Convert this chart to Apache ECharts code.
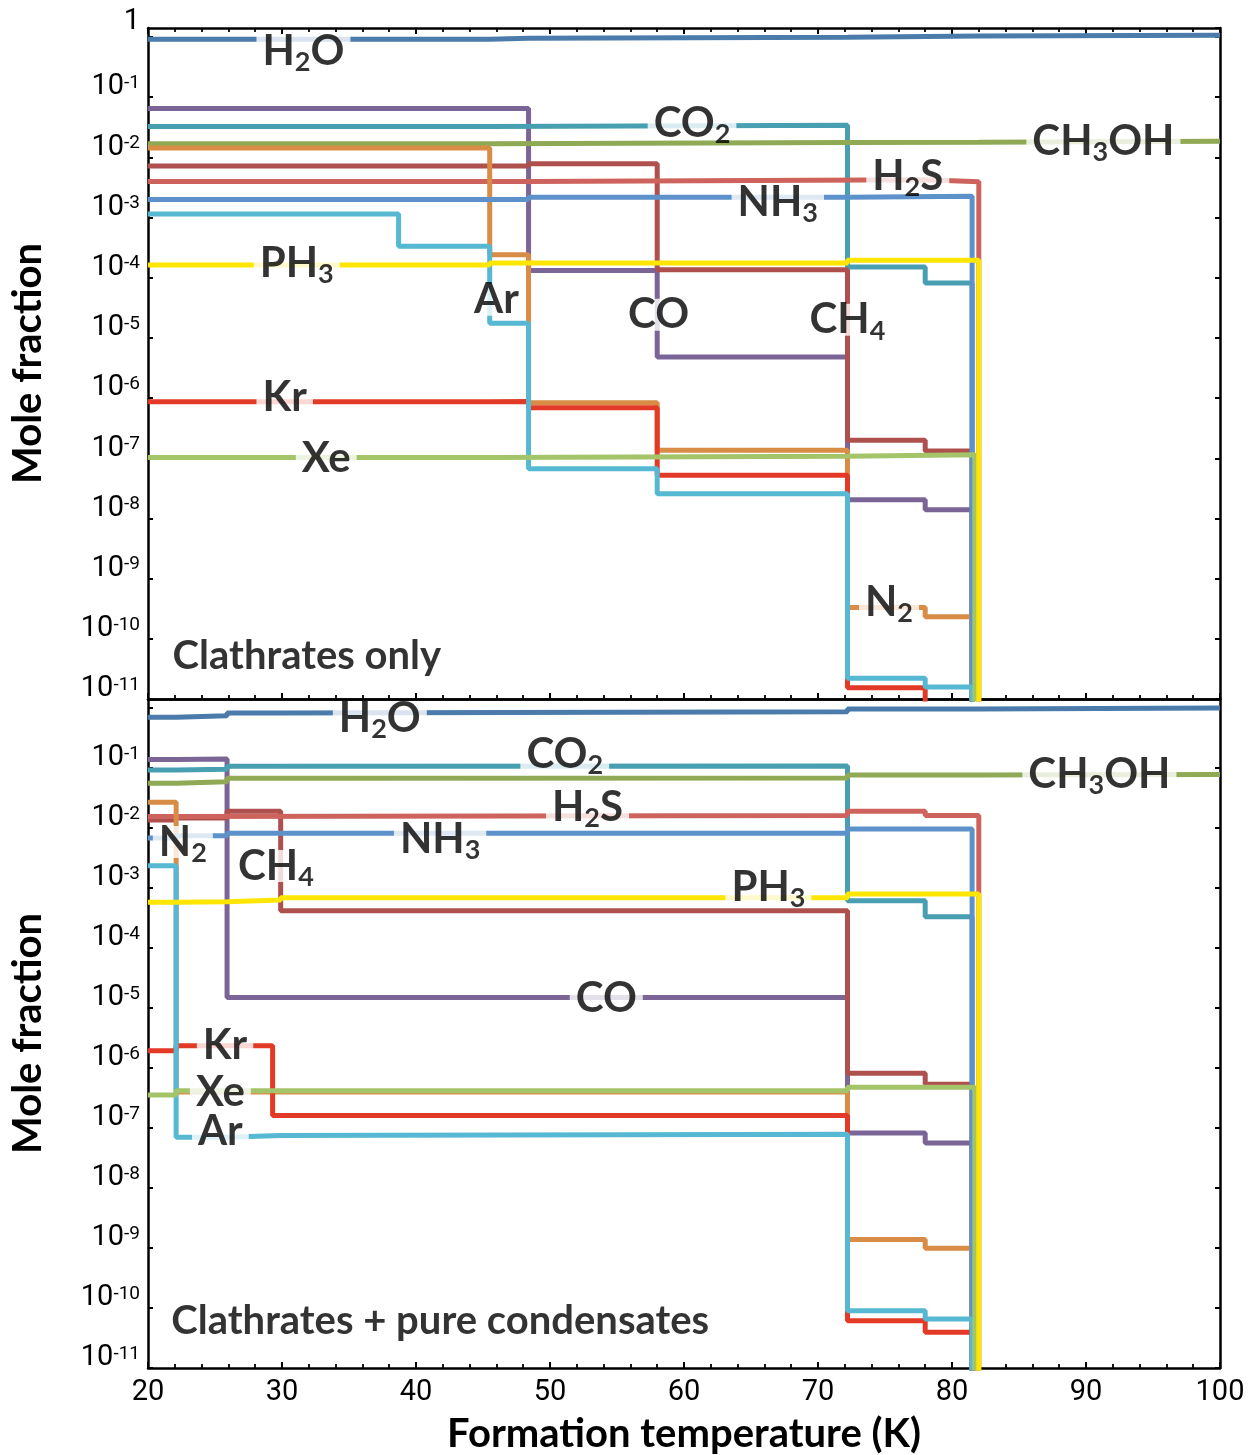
<!DOCTYPE html>
<html><head><meta charset="utf-8">
<script src="https://cdn.jsdelivr.net/npm/echarts@6/dist/echarts.min.js"></script>
<style>html,body{margin:0;padding:0;background:#fff}#c{width:1260px;height:1455px}</style>
</head><body><div id="c"></div>
<script>
// ---------- data ----------
const X_MIN = 20, X_MAX = 100;
const GONE = 1e-13; // species fully condensed/trapped (drops below the axis)

// Panel A: clathrates only  [formation temperature (K), mole fraction]
const clathH2O   = [[20,0.92],[45.5,0.95],[48.4,0.99],[72.2,1.04],[82,1.07],[100,1.07]];
const clathCO    = [[20,0.065],[48.4,1.32e-4],[58,4.8e-6],[72.2,2.05e-8],[78,1.4e-8],[81.5,GONE]];
const clathCO2   = [[20,0.0325],[45.5,0.0342],[72.2,1.51e-4],[78,8.2e-5],[81.5,GONE]];
const clathCH3OH = [[20,0.0169],[45.5,0.0176],[72.2,0.0178],[82,0.0185],[100,0.0185]];
const clathCH4   = [[20,7.16e-3],[48.4,7.85e-3],[58,1.36e-4],[72.2,2.0e-7],[78,1.32e-7],[81.5,GONE]];
const clathH2S   = [[20,3.98e-3],[48.4,4.25e-3],[78,3.94e-3],[82,GONE]];
const clathN2    = [[20,0.0143],[45.5,2.42e-4],[48.4,8.35e-7],[58,1.36e-7],[72.2,3.3e-10],[78,2.33e-10],[81.5,GONE]];
const clathNH3   = [[20,2.0e-3],[48.4,2.18e-3],[72.2,2.26e-3],[81.5,GONE]];
const clathKr    = [[20,8.7e-7],[45.5,8.8e-7],[48.4,6.9e-7],[58,5.2e-8],[72.2,1.54e-11],[78,GONE]];
const clathAr    = [[20,1.15e-3],[38.7,3.33e-4],[45.5,1.76e-5],[48.4,6.73e-8],[58,2.58e-8],[72.2,2.21e-11],[78,1.58e-11],[81.5,GONE]];
const clathXe    = [[20,1.03e-7],[45.5,1.08e-7],[72.2,1.14e-7],[81.7,GONE]];
const clathPH3   = [[20,1.63e-4],[45.5,1.76e-4],[72.2,1.95e-4],[82,GONE]];

// Panel B: clathrates + pure condensates
const pureH2O   = [[20,0.70],[22.1,0.745],[25.9,0.826],[29.9,0.868],[72.2,0.96],[82,1.0],[100,1.0]];
const pureCO    = [[20,0.138],[22.1,0.141],[25.9,1.5e-5],[72.2,8.26e-8],[78,5.62e-8],[81.5,GONE]];
const pureCO2   = [[20,0.0926],[22.1,0.0955],[25.9,0.107],[29.9,0.108],[72.2,6.15e-4],[78,3.33e-4],[81.5,GONE]];
const pureCH3OH = [[20,0.0555],[22.1,0.0591],[25.9,0.0673],[29.9,0.068],[72.2,0.0765],[82,0.0778],[100,0.0778]];
const pureCH4   = [[20,0.0136],[22.1,0.0147],[25.9,0.019],[29.9,4.19e-4],[72.2,8.15e-7],[78,5.35e-7],[81.5,GONE]];
const pureH2S   = [[20,0.0155],[22.1,0.0162],[72.2,0.019],[78,0.0161],[82,GONE]];
const pureN2    = [[20,0.0268],[22.1,4.0e-7],[72.2,1.38e-9],[78,9.87e-10],[81.5,GONE]];
const pureNH3   = [[20,6.8e-3],[22.1,7.45e-3],[25.9,8.15e-3],[72.2,9.62e-3],[81.5,GONE]];
const pureKr    = [[20,1.94e-6],[22.1,2.35e-6],[29.3,1.61e-7],[72.2,6.15e-11],[78,3.93e-11],[81.7,GONE]];
const pureAr    = [[20,2.36e-3],[22.1,7.0e-8],[25.9,7.5e-8],[29.9,7.9e-8],[72.2,9.0e-11],[78,6.56e-11],[81.5,GONE]];
const pureXe    = [[20,3.55e-7],[22.1,4.19e-7],[72.2,4.77e-7],[81.7,GONE]];
const purePH3   = [[20,5.77e-4],[22.1,5.9e-4],[25.9,6.3e-4],[29.9,6.9e-4],[72.2,7.94e-4],[82,GONE]];

// draw order of species and their colours
const speciesOrder = ['H2O','CO','CO2','CH3OH','CH4','H2S','N2','NH3','Kr','Ar','Xe','PH3'];
const speciesColor = {
  H2O:'#4a7bab', CO:'#7b6596', CO2:'#489fb2', CH3OH:'#8fa955', CH4:'#ae514e', H2S:'#cd635c',
  N2:'#d98c45', NH3:'#5d91c9', Kr:'#e23a26', Ar:'#56b8d2', Xe:'#a4c46a', PH3:'#ffe600'
};
const clathSeries = {H2O:clathH2O, CO:clathCO, CO2:clathCO2, CH3OH:clathCH3OH, CH4:clathCH4, H2S:clathH2S,
  N2:clathN2, NH3:clathNH3, Kr:clathKr, Ar:clathAr, Xe:clathXe, PH3:clathPH3};
const pureSeries = {H2O:pureH2O, CO:pureCO, CO2:pureCO2, CH3OH:pureCH3OH, CH4:pureCH4, H2S:pureH2S,
  N2:pureN2, NH3:pureNH3, Kr:pureKr, Ar:pureAr, Xe:pureXe, PH3:purePH3};

// in-plot species labels: [text, temperature, mole fraction]
const clathLabels = [
  ['H2O',31.6,0.585],['CO2',60.6,0.0369],['CH3OH',91.3,0.0185],['H2S',76.7,4.8e-3],['NH3',67.0,1.78e-3],
  ['PH3',31.1,1.71e-4],['Ar',46.0,4.3e-5],['CO',58.1,2.42e-5],['CH4',72.2,2.0e-5],['Kr',30.2,1.04e-6],
  ['Xe',33.3,1.0e-7],['N2',75.3,4.0e-10]
];
const pureLabels = [
  ['H2O',37.3,0.68],['CO2',51.1,0.171],['CH3OH',91.0,0.0794],['H2S',52.8,0.0224],['NH3',41.8,6.56e-3],
  ['N2',22.6,5.85e-3],['CH4',29.55,2.33e-3],['PH3',66.3,1.04e-3],['CO',54.2,1.47e-5],['Kr',25.75,2.42e-6],
  ['Xe',25.4,3.98e-7],['Ar',25.4,8.6e-8]
];
const panelTitles = [['Clathrates only',21.8,5.2e-11],['Clathrates + pure condensates',21.7,6.1e-11]];

// ---------- chart ----------
const LOG_MAX = Math.pow(10, 0.15);
const BOLD = 'Lato';
function chem(t){ return t.replace(/([A-Za-z]+)|(\d+)/g, (m,a,d)=> a ? '{b|'+a+'}' : '{s|'+d+'}'); }
function yFmtFactory(showOne){
  return function(v){
    const l = Math.log10(v), e = Math.round(l);
    if (Math.abs(l-e) > 1e-6) return '';
    if (e === 0) return showOne ? '{one|1}' : '';
    return '{n|10}{p|' + e + '}';
  };
}
const axisLineStyle = {color:'#000', width:2.5};
function xAx(grid, pos, ticks, labels){
  return {type:'value', gridIndex:grid, position:pos, min:X_MIN, max:X_MAX, interval:10,
    axisLine:{show:true, onZero:false, lineStyle:axisLineStyle},
    axisTick:{show:ticks, inside:true, length:6, lineStyle:{color:'#000', width:2}},
    minorTick:{show:ticks, splitNumber:5, length:4, lineStyle:{color:'#000', width:1.8}},
    splitLine:{show:false},
    axisLabel:{show:labels, margin:10, color:'#000', fontFamily:'Roboto', fontSize:29},
    name: labels ? 'Formation temperature (K)' : '', nameLocation:'middle', nameGap:46,
    nameTextStyle:{color:'#000', fontFamily:BOLD, fontWeight:'bold', fontSize:40}
  };
}
function yAx(grid, pos, labels){
  return {type:'log', logBase:10, gridIndex:grid, position:pos, min:1e-11, max:LOG_MAX, interval:1,
    axisLine:{show:true, onZero:false, lineStyle:axisLineStyle},
    axisTick:{show:true, inside:true, length:5, lineStyle:{color:'#000', width:2}},
    splitLine:{show:false},
    axisLabel:{show:labels, formatter:yFmtFactory(grid === 0), margin:8, verticalAlign:'bottom', showMaxLabel:false, color:'#000',
      rich:{
        n:{fontFamily:'Roboto', fontSize:29, lineHeight:22, padding:[2,0,0,0], color:'#000'},
        p:{fontFamily:'Roboto', fontSize:19, lineHeight:22, padding:[0,0,6,0], color:'#000'},
        one:{fontFamily:'Roboto', fontSize:29, lineHeight:22, padding:[0,0,8,0], color:'#000'}
      }},
    name: labels ? 'Mole fraction' : '', nameLocation:'middle', nameGap:100,
    nameTextStyle:{color:'#000', fontFamily:BOLD, fontWeight:'bold', fontSize:40}
  };
}
const labelRich = {
  b:{fontFamily:BOLD, fontWeight:'bold', fontSize:42, lineHeight:30, color:'#000'},
  s:{fontFamily:BOLD, fontWeight:'bold', fontSize:27, lineHeight:8, padding:[22,0,0,0], color:'#000'}
};
const series = [];
[[clathSeries,0],[pureSeries,1]].forEach(([set,g])=>{
  speciesOrder.forEach(sp=>{
    series.push({type:'line', name:sp, xAxisIndex:g*2, yAxisIndex:g*2, data:set[sp], step:'end',
      symbol:'none', clip:true, silent:true, z:2,
      lineStyle:{color:speciesColor[sp], width:5}, itemStyle:{color:speciesColor[sp]}});
  });
});
[[clathLabels,0],[pureLabels,1]].forEach(([labs,g])=>{
  series.push({type:'scatter', xAxisIndex:g*2, yAxisIndex:g*2, symbolSize:1, silent:true, z:5,
    itemStyle:{color:'rgba(0,0,0,0)'},
    data: labs.map(l=>({value:[l[1],l[2]], label:{formatter:chem(l[0])}})),
    label:{show:true, position:'inside', backgroundColor:'#fff', padding:[1,6], rich:labelRich}
  });
});
panelTitles.forEach((t,g)=>{
  series.push({type:'scatter', xAxisIndex:g*2, yAxisIndex:g*2, symbolSize:1, silent:true, z:5,
    itemStyle:{color:'rgba(0,0,0,0)'},
    data:[{value:[t[1],t[2]]}],
    label:{show:true, position:'right', distance:0, formatter:t[0], color:'#000',
      fontFamily:BOLD, fontWeight:'bold', fontSize:40}
  });
});

const chart = echarts.init(document.getElementById('c'), null, {renderer:'canvas'});
chart.setOption({
  animation:false, backgroundColor:'#fff',
  grid:[
    {left:148, width:1072, top:28, height:671},
    {left:148, width:1072, top:699, height:671}
  ],
  xAxis:[xAx(0,'bottom',true,false), xAx(0,'top',true,false), xAx(1,'bottom',true,true), xAx(1,'top',false,false)],
  yAxis:[yAx(0,'left',true), yAx(0,'right',false), yAx(1,'left',true), yAx(1,'right',false)],
  series
});
</script></body></html>
